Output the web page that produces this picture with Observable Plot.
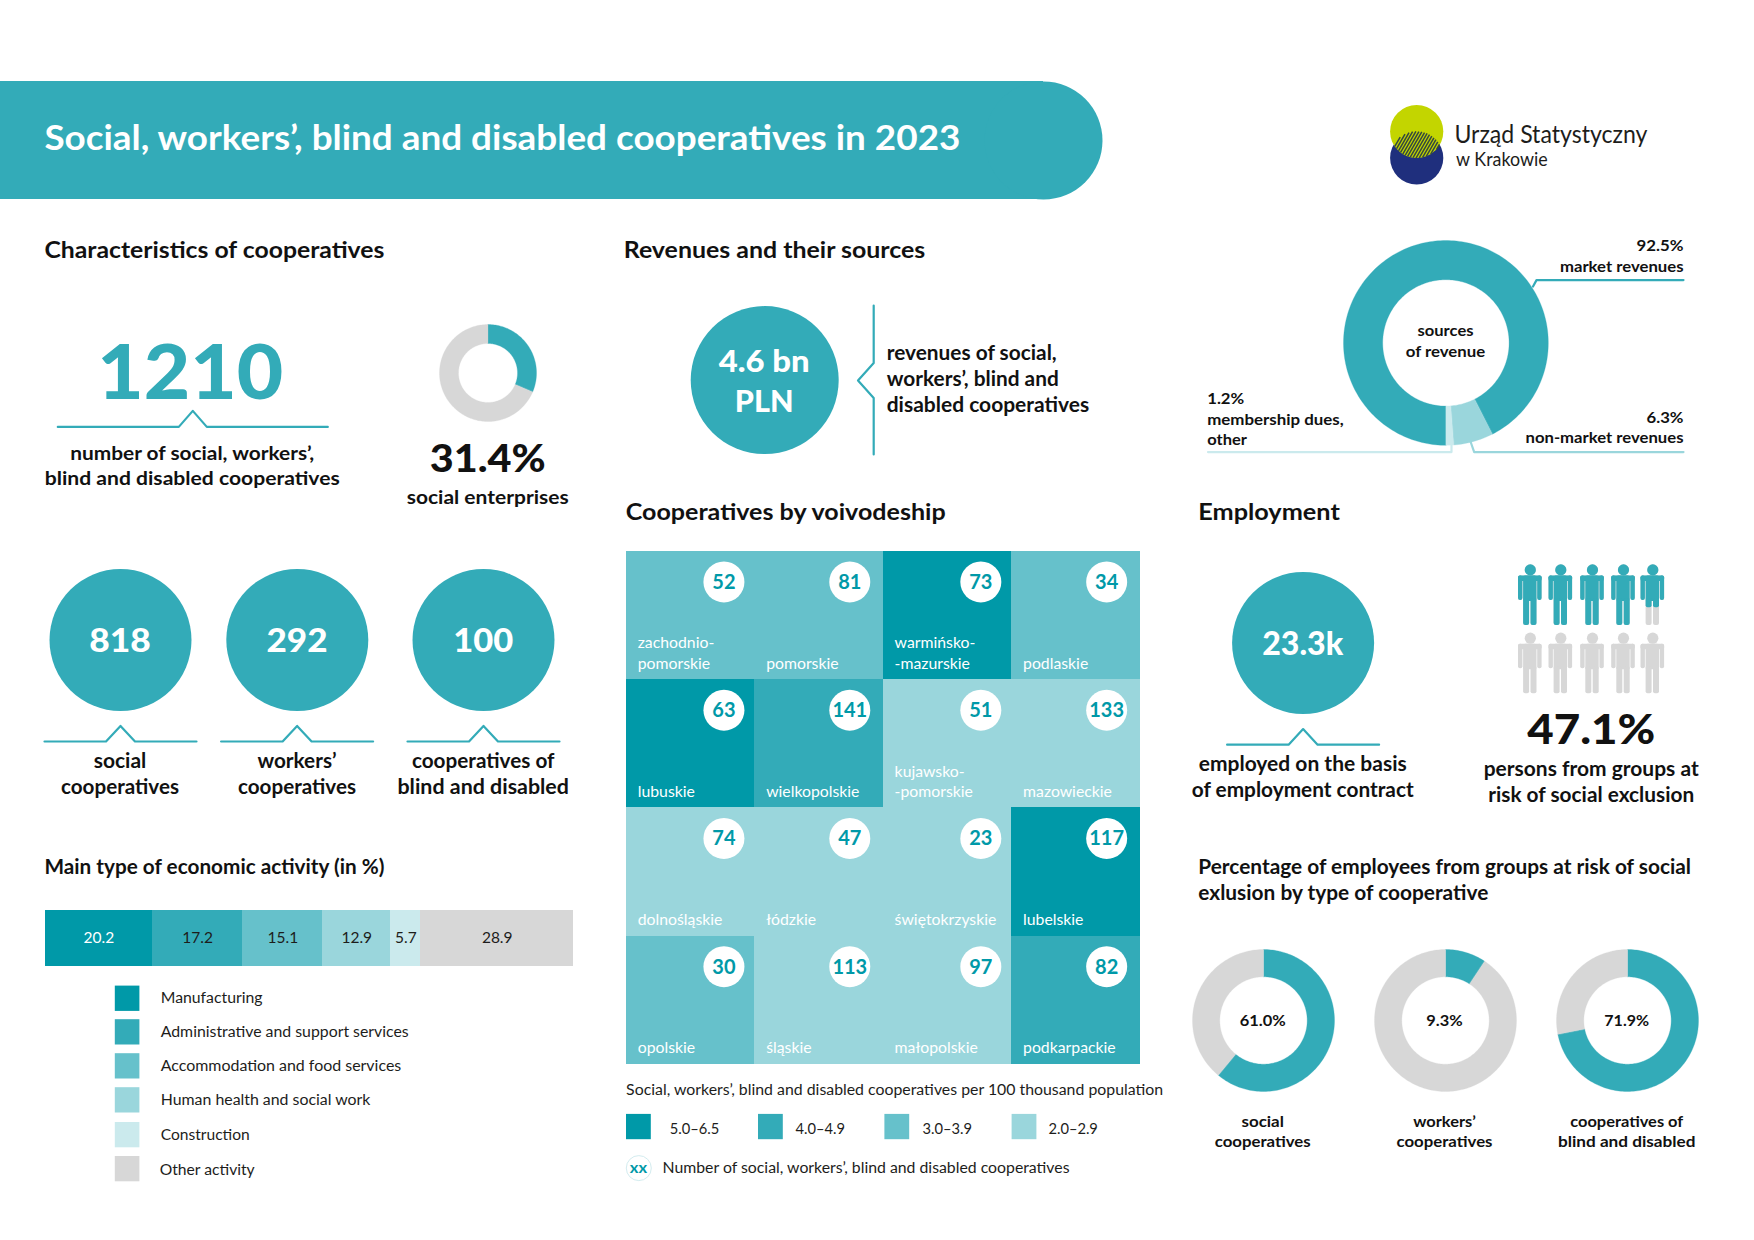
<!doctype html>
<html><head><meta charset="utf-8">
<script src="https://cdn.jsdelivr.net/npm/d3@7"></script>
<script src="https://cdn.jsdelivr.net/npm/@observablehq/plot@0.6"></script>
<style>html,body{margin:0;background:#fff}#page{position:relative;width:1754px;height:1240px;overflow:hidden;background:#fff}</style>
</head><body><div id="page"></div>
<script>
// ---- data ----
const title = "Social, workers’, blind and disabled cooperatives in 2023";
const cooperativesTotal = 1210;
const socialEnterpriseShare = [31.4, 68.6];
const coopTypes = ["social", "workers’", "blind"];
const coopCounts = [818, 292, 100];
const activityNames = ["Manufacturing","Administrative and support services","Accommodation and food services","Human health and social work","Construction","Other activity"];
const activityValues = [20.2, 17.2, 15.1, 12.9, 5.7, 28.9];
const revenueNames = ["market revenues","non-market revenues","membership dues, other"];
const revenueShares = [92.5, 6.3, 1.2];
const voivodeships = ["zachodnio-\npomorskie","pomorskie","warmińsko-\n-mazurskie","podlaskie","lubuskie","wielkopolskie","kujawsko-\n-pomorskie","mazowieckie","dolnośląskie","łódzkie","świętokrzyskie","lubelskie","opolskie","śląskie","małopolskie","podkarpackie"];
const voivodeshipCounts = [52,81,73,34,63,141,51,133,74,47,23,117,30,113,97,82];
const densityClass = [2,2,0,2,0,1,3,3,3,3,3,0,2,3,3,1];
const densityLabels = ["5.0–6.5","4.0–4.9","3.0–3.9","2.0–2.9"];
const riskShareAll = 47.1;
const riskShareByType = [61.0, 9.3, 71.9];

// ---- palette ----
const teal = "#33abb8";
const shades = ["#0099a8","#33abb8","#66c1cb","#9ad6dc","#cbeaed","#d7d7d7"];
const ink = "#111111", soft = "#1d1d1b";
const font = "Lato, 'Open Sans', sans-serif";

// ---- helpers ----
const page = document.getElementById("page");
const frame = (w, h) => ({x:{domain:[0,w],range:[0,w],axis:null}, y:{domain:[0,h],range:[0,h],axis:null}});
function panel(left, top, width, height, marks, extra = {}) {
  const svg = Plot.plot({width, height, margin:0, ...extra, marks,
    style:{background:"transparent", position:"absolute", left:left+"px", top:top+"px", fontFamily:font, overflow:"visible"}});
  page.appendChild(svg);
  return svg;
}
const rows = [];
function L(text, x, y, size, w, opts = {}) { rows.push({text, x:x-0.8, y, size, w, weight:opts.weight ?? 700, fill:opts.fill ?? ink, anchor:opts.anchor ?? "start"}); }
const labelMark = r => Plot.text([r], {x:"x", y:"y", text:"text", fontSize:r.size, fontWeight:r.weight, fill:r.fill, textAnchor:r.anchor, lineAnchor:"bottom"});
const dot = (x, y, r, fill, extra = {}) => Plot.dot([[x,y]], {x:d=>d[0], y:d=>d[1], r, fill, stroke:"none", ...extra});
const box = (x1, x2, y1, y2, fill) => Plot.rect([[x1,x2,y1,y2]], {x1:d=>d[0], x2:d=>d[1], y1:d=>d[2], y2:d=>d[3], fill});
const poly = (pts, stroke, strokeWidth = 2.2) => Plot.line(pts, {x:d=>d[0], y:d=>d[1], stroke, strokeWidth});
const bracket = (cx, y, half, notch, h) => poly([[cx-half,y],[cx-notch,y],[cx,y-h],[cx+notch,y],[cx+half,y]], teal);

function ringFeature(a0, a1, R, r, color) {
  const n = Math.max(2, Math.ceil((a1-a0)/1.5));
  const at = (rad, t) => { const a = (a0+(a1-a0)*t)*Math.PI/180; return [rad*Math.sin(a), -rad*Math.cos(a)]; };
  const outer = d3.range(n+1).map(i => at(R, i/n));
  const inner = d3.range(n+1).map(i => at(r, 1-i/n));
  return {type:"Feature", properties:{color}, geometry:{type:"Polygon", coordinates:[[...outer, ...inner, outer[0]]]}};
}
function donut(cx, cy, R, r, shares, colors, start = 0) {
  const total = d3.sum(shares);
  let a = start;
  const feats = shares.map((s, i) => { const a0 = a; a += s/total*360; return ringFeature(a0, a, R, r, colors[i]); });
  panel(cx-R, cy-R, 2*R, 2*R, [Plot.geo(feats, {fill:d=>d.properties.color, stroke:d=>d.properties.color, strokeWidth:0.3})], {
    color:{type:"identity"},
    projection: d3.geoTransform({point(x, y){ this.stream.point(x+R, y+R); }})
  });
}

// ---- text ----
L(title, 44.7, 149, 34, 916, {fill:"#ffffff"});
L("Characteristics of cooperatives", 44.7, 257, 22.5, 340);
L("Revenues and their sources", 624, 257, 22.5, 301.6);
L("Cooperatives by voivodeship", 626, 519, 22.5, 320);
L("Employment", 1198.6, 519, 22.5, 141.5);
L("Urząd Statystyczny", 1454.7, 142.3, 25, 193, {weight:400, fill:soft});
L("w Krakowie", 1456.4, 165, 19.5, 91.6, {weight:400, fill:soft});

const mid = {anchor:"middle"}, end = {anchor:"end"};
L(String(cooperativesTotal), 190.5, 398.6, 77, 186, {anchor:"middle", fill:teal, weight:900});
L("number of social, workers’,", 192.5, 459, 19.5, 244, mid);
L("blind and disabled cooperatives", 192.5, 484.3, 19.5, 295, mid);
L(socialEnterpriseShare[0].toFixed(1)+"%", 488, 471, 37, 116, {anchor:"middle", weight:900});
L("social enterprises", 488, 503, 19.5, 162, mid);

[[120.3,61.5],[297.3,61],[483.5,60]].forEach(([x,w],i) => L(String(coopCounts[i]), x, 651.6, 33, w, {anchor:"middle", fill:"#ffffff", weight:900}));
L("social", 120.3, 767.5, 20, 52.6, mid); L("cooperatives", 120.3, 793, 20, 118, mid);
L("workers’", 297.3, 767.5, 20, 79, mid); L("cooperatives", 297.3, 793, 20, 118, mid);
L("cooperatives of", 483.5, 767.5, 20, 142.6, mid); L("blind and disabled", 483.5, 793, 20, 171.5, mid);

L("Main type of economic activity (in %)", 44.7, 873, 20, 340);
const legendBase = [1002.4,1036.4,1070.4,1104.4,1139.6,1174.4];
const legendX = [161,161,161,161,161,160];
const legendW = [101.8,248,240.5,209.7,89,95];
activityNames.forEach((n,i) => L(n, legendX[i], legendBase[i], 15.5, legendW[i], {weight:400, fill:soft}));

L("4.6 bn", 764.5, 371, 31, 91, {anchor:"middle", fill:"#ffffff", weight:900});
L("PLN", 764.5, 411, 31, 58.7, {anchor:"middle", fill:"#ffffff", weight:900});
L("revenues of social,", 887, 359, 20, 170);
L("workers’, blind and", 887, 385, 20, 172);
L("disabled cooperatives", 887, 411, 20, 202.5);

L("sources", 1445.8, 335.5, 16, 56, mid);
L("of revenue", 1445.8, 356.2, 16, 79.4, mid);
L(revenueShares[0].toFixed(1)+"%", 1683.8, 250.5, 16, 47, end);
L(revenueNames[0], 1683.8, 271.5, 16, 123.6, end);
L(revenueShares[1].toFixed(1)+"%", 1683.8, 422.5, 16, 37, end);
L(revenueNames[1], 1683.8, 442.5, 16, 158, end);
L(revenueShares[2].toFixed(1)+"%", 1207.5, 403.5, 16, 37);
L("membership dues,", 1207.5, 424.2, 16, 136.5);
L("other", 1207.5, 444.5, 16, 39.7);

L("Social, workers’, blind and disabled cooperatives per 100 thousand population", 626.4, 1094.5, 15.5, 537, {weight:400, fill:soft});
[670,795.9,922.9,1048.7].forEach((x,i) => L(densityLabels[i], x, 1133, 15.5, 49.5, {weight:400, fill:soft}));
L("xx", 638.7, 1172.8, 16, 17.3, {anchor:"middle", fill:shades[0]});
L("Number of social, workers’, blind and disabled cooperatives", 662.8, 1172.4, 15.5, 407, {weight:400, fill:soft});

L("23.3k", 1303, 654, 33, 81, {anchor:"middle", fill:"#ffffff", weight:900});
L("employed on the basis", 1303, 770, 20, 208, mid);
L("of employment contract", 1303, 796, 20, 222, mid);
L(riskShareAll.toFixed(1)+"%", 1591.5, 743, 41, 128, {anchor:"middle", weight:900});
L("persons from groups at", 1591.5, 775.4, 20, 215, mid);
L("risk of social exclusion", 1591.5, 801, 20, 206, mid);
L("Percentage of employees from groups at risk of social", 1198.6, 873, 20, 492.7);
L("exlusion by type of cooperative", 1198.6, 899, 20, 290);

const donutX = [1263,1444.8,1627];
[46,36.4,44.7].forEach((w,i) => L(riskShareByType[i].toFixed(1)+"%", donutX[i], 1025, 16, w, mid));
L("social", donutX[0], 1126, 16, 42.5, mid); L("cooperatives", donutX[0], 1146, 16, 96, mid);
L("workers’", donutX[1], 1126, 16, 62.6, mid); L("cooperatives", donutX[1], 1146, 16, 96, mid);
L("cooperatives of", donutX[2], 1126, 16, 113, mid); L("blind and disabled", donutX[2], 1146, 16, 137.6, mid);

// ---- logo hatching, clipped to the lens of the two circles ----
const logoX = 1416.2, yellowY = 131, blueY = 157.4, logoR = 26.6;
const inLens = (x,y) => Math.hypot(x-logoX,y-yellowY) <= logoR && Math.hypot(x-logoX,y-blueY) <= logoR;
const hatch = [];
for (let c = -24; c <= 24; c += 3.1) {
  const pts = d3.range(-30, 30, 0.2).map(t => [logoX + c + t*0.5, (yellowY+blueY)/2 - t*0.866]).filter(p => inLens(p[0],p[1]));
  if (pts.length) hatch.push({x1:pts[0][0], y1:pts[0][1], x2:pts[pts.length-1][0], y2:pts[pts.length-1][1]});
}

// ---- page layer ----
const swatchY = [985.6,1019.2,1053.2,1087.2,1122,1156];
const classSwX = [626,758,884.4,1011.6];
const pageSvg = panel(0, 0, 1754, 1240, [
  box(0, 1043, 81, 199, teal),
  dot(1043, 140, 59, teal),
  dot(logoX, blueY, logoR, "#1f2f7d"),
  dot(logoX, yellowY, logoR, "#c3d500"),
  Plot.link(hatch, {x1:"x1", y1:"y1", x2:"x2", y2:"y2", stroke:"#33473f", strokeWidth:1.5}),
  bracket(192.3, 426.4, 135, 14, 16),
  bracket(120, 741, 76, 14.5, 15.6),
  bracket(296.6, 741, 76, 14.5, 15.6),
  bracket(483, 741, 76, 14.5, 15.6),
  bracket(1302.6, 744.2, 76, 14.5, 15.6),
  dot(120, 639.5, 71, teal), dot(296.8, 639.5, 71, teal), dot(483, 639.5, 71, teal),
  dot(1302.6, 642.5, 71, teal),
  dot(764.2, 379.6, 74, teal),
  poly([[873.2,305],[873.2,362.5],[857.5,380],[873.2,397.5],[873.2,454]], teal),
  poly([[1683,279.6],[1536,279.6],[1532.5,286]], teal),
  poly([[1683,451.6],[1473.7,451.6],[1470,441]], shades[3]),
  poly([[1207.5,451.6],[1451,451.6],[1451,445]], shades[4]),
  ...swatchY.map((y,i) => box(114.8,139.4,y,y+25.3,shades[i])),
  ...classSwX.map((x,i) => box(x,x+24.8,1113.9,1139.2,shades[i])),
  dot(638.3, 1167.6, 12.5, "#ffffff", {stroke:"#d3ecef", strokeWidth:1}),
  ...rows.map(labelMark)
], frame(1754,1240));
// fit each label to the width it has in the reference
pageSvg.querySelectorAll("text").forEach((el,i) => { el.setAttribute("textLength", rows[i].w); el.setAttribute("lengthAdjust","spacingAndGlyphs"); });

// ---- donuts ----
donut(487.6, 372.7, 48.5, 29.5, socialEnterpriseShare, [teal, shades[5]]);
donut(1445.6, 342.4, 102.4, 63.2, revenueShares, [teal, shades[3], shades[4]], 180);
riskShareByType.forEach((v,i) => donut(donutX[i]-0.3, 1019.8, 71, 43.7, [v, 100-v], [teal, shades[5]]));

// ---- stacked bar ----
const activityRows = activityNames.map((name,i) => ({name, value:activityValues[i], shade:shades[i], ink:i===0?"#ffffff":soft}));
panel(44.7, 909.8, 528, 56, [
  Plot.barX(activityRows, Plot.stackX({x:"value", fill:"shade", z:"name", shapeRendering:"crispEdges"})),
  Plot.text(activityRows, Plot.stackX({x:"value", text:d=>d.value.toFixed(1), fill:"ink", z:null, fontSize:15.5}))
], {x:{domain:[0,100], axis:null}, color:{type:"identity"}});

// ---- voivodeship grid ----
const cells = voivodeships.map((name,i) => ({name, count:voivodeshipCounts[i], cls:densityClass[i], col:i%4, row:Math.floor(i/4)}));
panel(626.2, 551, 513.8, 513, [
  Plot.cell(cells, {x:"col", y:"row", fill:d=>shades[d.cls], shapeRendering:"crispEdges"}),
  Plot.text(cells, {x:"col", y:"row", text:"name", fill:"#ffffff", fontSize:15.8, lineHeight:1.28, textAnchor:"start", lineAnchor:"bottom", dx:-53, dy:53}),
  Plot.dot(cells.filter(d=>d.col%2===0), {x:"col", y:"row", r:20.5, fill:"#ffffff", stroke:"none", dx:33.2, dy:-33.7}),
  Plot.dot(cells.filter(d=>d.col%2===1), {x:"col", y:"row", r:20.5, fill:"#ffffff", stroke:"none", dx:30.6, dy:-33.7}),
  Plot.text(cells.filter(d=>d.col%2===0), {x:"col", y:"row", text:d=>String(d.count), fill:shades[0], fontSize:20, fontWeight:700, lineAnchor:"bottom", dx:33.2, dy:-26.7}),
  Plot.text(cells.filter(d=>d.col%2===1), {x:"col", y:"row", text:d=>String(d.count), fill:shades[0], fontSize:20, fontWeight:700, lineAnchor:"bottom", dx:30.6, dy:-26.7})
], {x:{type:"band", domain:[0,1,2,3], padding:0, round:false, axis:null}, y:{type:"band", domain:[0,1,2,3], padding:0, round:false, axis:null}, color:{type:"identity"}});

// ---- pictogram: ten people, filled up to the share ----
const personX = [19.8,50.3,82,113,142.3], personY = [9,77.3], personH = 61;
const parts = [[-11.8,-7.4,11.5,36],[7.4,11.8,11.5,36],[-11.8,11.8,11.5,17],[-6.7,6.7,11.5,37],[-6.7,-0.7,34,61],[0.7,6.7,34,61]];
const people = d3.range(10).map(i => ({i, cx:personX[i%5], top:personY[Math.floor(i/5)], fill:Math.max(0, Math.min(1, riskShareAll/10 - i))}));
const grayParts = people.flatMap(p => parts.map(b => ({x1:p.cx+b[0], x2:p.cx+b[1], y1:p.top+b[2], y2:p.top+b[3]})));
const tealParts = people.filter(p=>p.fill>0).flatMap(p => parts.map(b => ({x1:p.cx+b[0], x2:p.cx+b[1], y1:p.top+b[2], y2:Math.min(p.top+b[3], p.top+personH*p.fill)})).filter(r=>r.y2>r.y1));
panel(1510, 555.4, 160, 150, [
  Plot.rect(grayParts, {x1:"x1", x2:"x2", y1:"y1", y2:"y2", fill:shades[5], rx:2}),
  Plot.dot(people, {x:"cx", y:d=>d.top+5.4, r:5.6, fill:shades[5], stroke:"none"}),
  Plot.rect(tealParts, {x1:"x1", x2:"x2", y1:"y1", y2:"y2", fill:teal, rx:2}),
  Plot.dot(people.filter(p=>p.fill>0), {x:"cx", y:d=>d.top+5.4, r:5.6, fill:teal, stroke:"none"})
], frame(160,150));
</script></body></html>
